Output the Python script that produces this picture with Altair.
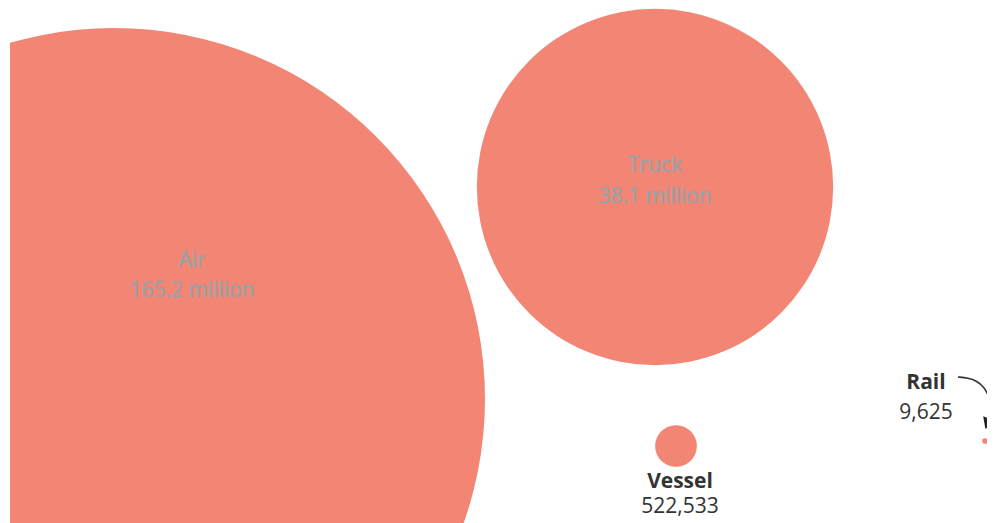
import math
import altair as alt
import pandas as pd

# Data
modes = ["Air", "Truck", "Vessel", "Rail"]
values = [165_200_000, 38_100_000, 522_533, 9_625]

# Layout (page-pixel positions of bubble centres and labels)
cx = [114, 655, 676, 985]
cy = [399, 187, 446, 441]
label_x = [192, 655, 680, 926]
name_y = [267, 172, 488, 389]
value_y = [297, 203, 513, 419]
inside = [True, True, False, False]

# Annotation arrow path for Rail
arrow_x = [958, 968, 977, 984, 989, 993]
arrow_y = [377, 378, 381, 387, 396, 408]


def fmt(v):
    return f"{v / 1e6:.1f} million" if v >= 1_000_000 else f"{v:,}"


df = pd.DataFrame({
    "mode": modes,
    "value": values,
    "cx": cx,
    "cy": cy,
    "lx": label_x,
    "ny": name_y,
    "vy": value_y,
    "inside": inside,
    "vlabel": [fmt(v) for v in values],
})
arrow_df = pd.DataFrame({"x": arrow_x, "y": arrow_y, "o": list(range(len(arrow_x)))})
head_df = pd.DataFrame({"x": [988], "y": [422]})

W, H = 977, 515
xs = alt.Scale(domain=[10, 10 + W], nice=False, zero=False)
ys = alt.Scale(domain=[8, 8 + H], nice=False, zero=False, reverse=True)
X = lambda f: alt.X(f, type="quantitative", scale=xs, axis=None)
Y = lambda f: alt.Y(f, type="quantitative", scale=ys, axis=None)

# Vega circle symbol size = (diameter)^2
r_max = 371
bubbles = alt.Chart(df).mark_circle(opacity=1, color="#F28574", clip=True).encode(
    x=X("cx"), y=Y("cy"),
    size=alt.Size("value:Q", legend=None,
                  scale=alt.Scale(type="linear", domain=[0, max(values)],
                                  range=[0, 4 * r_max ** 2], zero=True)),
)

font = "Open Sans"
in_style = dict(font=font, fontSize=21, fontWeight="normal", color="#A0A0A2",
                stroke="#A0A0A2", strokeWidth=0.6, baseline="alphabetic", align="center")
in_name = alt.Chart(df).transform_filter("datum.inside").mark_text(**in_style).encode(
    x=X("lx"), y=Y("ny"), text="mode:N")
in_val = alt.Chart(df).transform_filter("datum.inside").mark_text(**in_style).encode(
    x=X("lx"), y=Y("vy"), text="vlabel:N")
out_name = alt.Chart(df).transform_filter("!datum.inside").mark_text(
    font=font, fontSize=21, fontWeight="bold", color="#333333", baseline="alphabetic", align="center"
).encode(x=X("lx"), y=Y("ny"), text="mode:N")
out_val = alt.Chart(df).transform_filter("!datum.inside").mark_text(
    font=font, fontSize=21, fontWeight="normal", color="#333333", baseline="alphabetic", align="center"
).encode(x=X("lx"), y=Y("vy"), text="vlabel:N")

arrow = alt.Chart(arrow_df).mark_line(color="#333333", strokeWidth=1.6, interpolate="basis", clip=True).encode(
    x=X("x"), y=Y("y"), order="o:Q"
)
head = alt.Chart(head_df).mark_point(
    shape="triangle", filled=True, color="#222222", size=170, angle=200, opacity=1, clip=True
).encode(x=X("x"), y=Y("y"))

chart = alt.layer(bubbles, in_name, in_val, out_name, out_val, arrow, head).properties(
    width=W, height=H,
    autosize=alt.AutoSizeParams(type="none"),
    padding={"left": 2, "top": 0, "right": 0, "bottom": 0},
    background="#FFFFFF",
).configure_view(stroke=None)

chart.save("out.html", embed_options={"renderer": "svg", "actions": False})
